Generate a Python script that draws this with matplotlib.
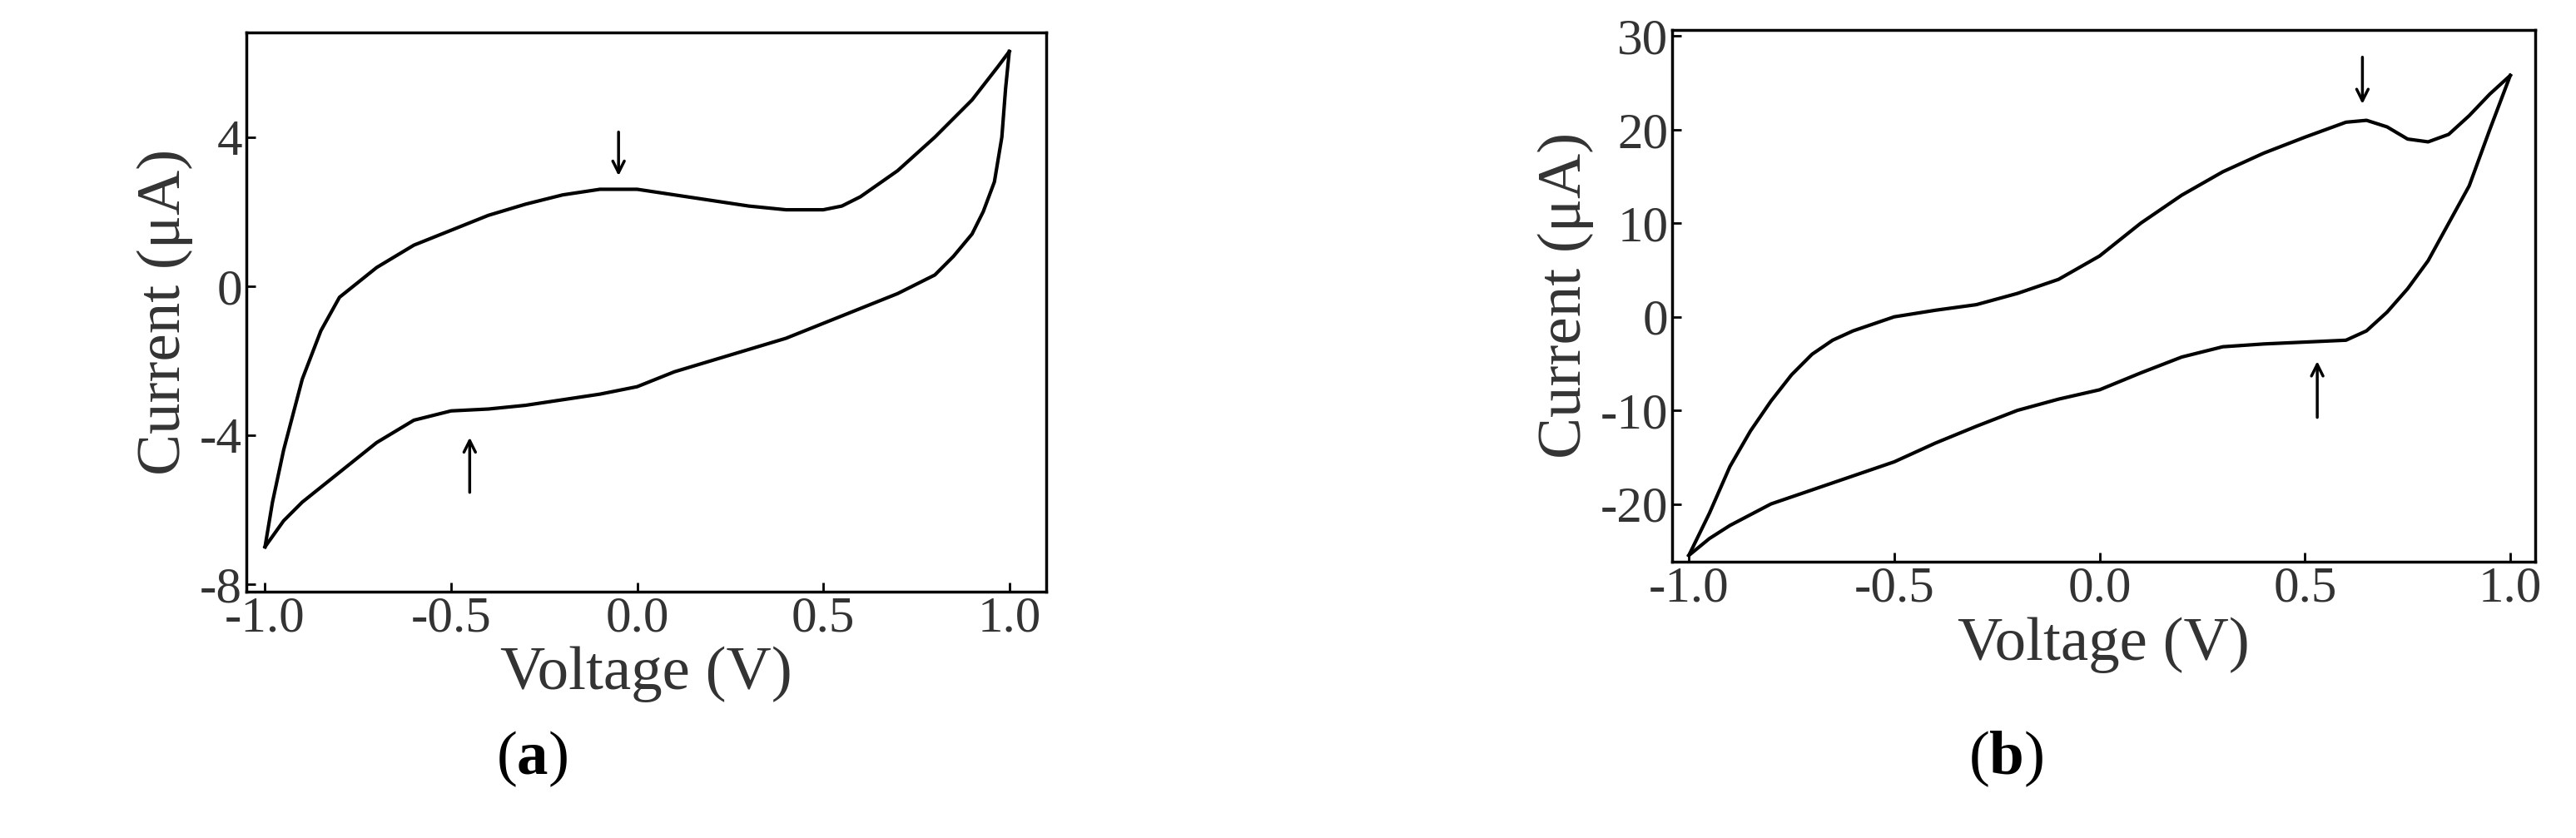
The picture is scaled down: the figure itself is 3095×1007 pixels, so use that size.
import numpy as np
import matplotlib
matplotlib.use("Agg")
import matplotlib.pyplot as plt
from matplotlib.ticker import FormatStrFormatter

plt.rcParams['font.family'] = ['Liberation Serif', 'DejaVu Serif']
plt.rcParams['mathtext.fontset'] = 'custom'
plt.rcParams['mathtext.bf'] = 'Liberation Serif:bold'
plt.rcParams['axes.unicode_minus'] = False

a_fwd_v = [-1.0,-0.98,-0.95,-0.9,-0.85,-0.8,-0.75,-0.7,-0.6,-0.5,-0.4,-0.3,-0.2,-0.1,0.0,0.1,0.2,0.3,0.4,0.5,0.55,0.6,0.7,0.8,0.9,0.97,1.0]
a_fwd_i = [-7.0,-5.8,-4.4,-2.5,-1.2,-0.3,0.1,0.5,1.1,1.5,1.9,2.2,2.45,2.6,2.6,2.45,2.3,2.15,2.05,2.05,2.15,2.4,3.1,4.0,5.0,5.9,6.3]
a_rev_v = [1.0,0.99,0.98,0.96,0.93,0.9,0.85,0.8,0.7,0.6,0.5,0.4,0.3,0.2,0.1,0.0,-0.1,-0.2,-0.3,-0.4,-0.5,-0.6,-0.7,-0.8,-0.9,-0.95,-1.0]
a_rev_i = [6.3,5.3,4.0,2.8,2.0,1.4,0.8,0.3,-0.2,-0.6,-1.0,-1.4,-1.7,-2.0,-2.3,-2.7,-2.9,-3.05,-3.2,-3.3,-3.35,-3.6,-4.2,-5.0,-5.8,-6.3,-7.0]

b_fwd_v = [-1.0,-0.95,-0.9,-0.85,-0.8,-0.75,-0.7,-0.65,-0.6,-0.5,-0.4,-0.3,-0.2,-0.1,0.0,0.1,0.2,0.3,0.4,0.5,0.6,0.65,0.7,0.75,0.8,0.85,0.9,0.95,1.0]
b_fwd_i = [-25.5,-21,-16,-12.2,-9,-6.2,-4,-2.5,-1.5,0,0.7,1.3,2.5,4,6.5,10,13,15.5,17.5,19.2,20.8,21,20.3,19,18.7,19.5,21.5,23.8,25.8]
b_rev_v = [1.0,0.95,0.9,0.85,0.8,0.75,0.7,0.65,0.6,0.5,0.4,0.3,0.2,0.1,0.0,-0.1,-0.2,-0.3,-0.4,-0.5,-0.6,-0.7,-0.8,-0.9,-0.95,-1.0]
b_rev_i = [25.8,20,14,10,6,3,0.5,-1.5,-2.5,-2.7,-2.9,-3.2,-4.3,-6,-7.8,-8.8,-10,-11.7,-13.5,-15.5,-17,-18.5,-20,-22.3,-23.7,-25.5]

fig = plt.figure(figsize=(30.95, 10.07), dpi=100)
W, H = 1568, 510
def rect(l, r, t, b):
    return [l/W, 1-b/H, (r-l)/W, (b-t)/H]

axA = fig.add_axes(rect(150, 637, 20, 360))
axB = fig.add_axes(rect(1018, 1543, 18, 342))

for ax, fv, fi, rv, ri in [(axA, a_fwd_v, a_fwd_i, a_rev_v, a_rev_i),
                           (axB, b_fwd_v, b_fwd_i, b_rev_v, b_rev_i)]:
    ax.plot(fv, fi, color='black', lw=3, solid_joinstyle='round')
    ax.plot(rv, ri, color='black', lw=3, solid_joinstyle='round')
    ax.set_xlabel('Voltage (V)', fontsize=54, color='#333333', labelpad=4)
    ax.set_ylabel('Current (μA)', fontsize=54, color='#333333', labelpad=6)
    ax.tick_params(labelsize=44, width=2, length=8, direction='in', labelcolor='#333333')
    for s in ax.spines.values():
        s.set_linewidth(2.5)
    ax.xaxis.set_major_formatter(FormatStrFormatter('%.1f'))
    ax.set_xticks([-1.0, -0.5, 0.0, 0.5, 1.0])

axA.set_xlim(-1.05, 1.1)
axA.set_ylim(-8.2, 6.8)
axA.set_yticks([-8, -4, 0, 4])
axB.set_xlim(-1.04, 1.06)
axB.set_ylim(-26.2, 30.7)
axB.set_yticks([-20, -10, 0, 10, 20, 30])

ap = dict(arrowstyle='->', color='black', lw=2.5, mutation_scale=25)
axA.annotate('', xy=(-0.05, 2.9), xytext=(-0.05, 4.2), arrowprops=ap)
axA.annotate('', xy=(-0.45, -4.0), xytext=(-0.45, -5.6), arrowprops=ap)
axB.annotate('', xy=(0.64, 22.5), xytext=(0.64, 28), arrowprops=ap)
axB.annotate('', xy=(0.53, -4.5), xytext=(0.53, -11), arrowprops=ap)

fig.text(324/W, 1-462/H, r'($\mathbf{a}$)', fontsize=54, ha='center', va='center')
fig.text(1221/W, 1-462/H, r'($\mathbf{b}$)', fontsize=54, ha='center', va='center')

fig.savefig('out.png', dpi=100)
